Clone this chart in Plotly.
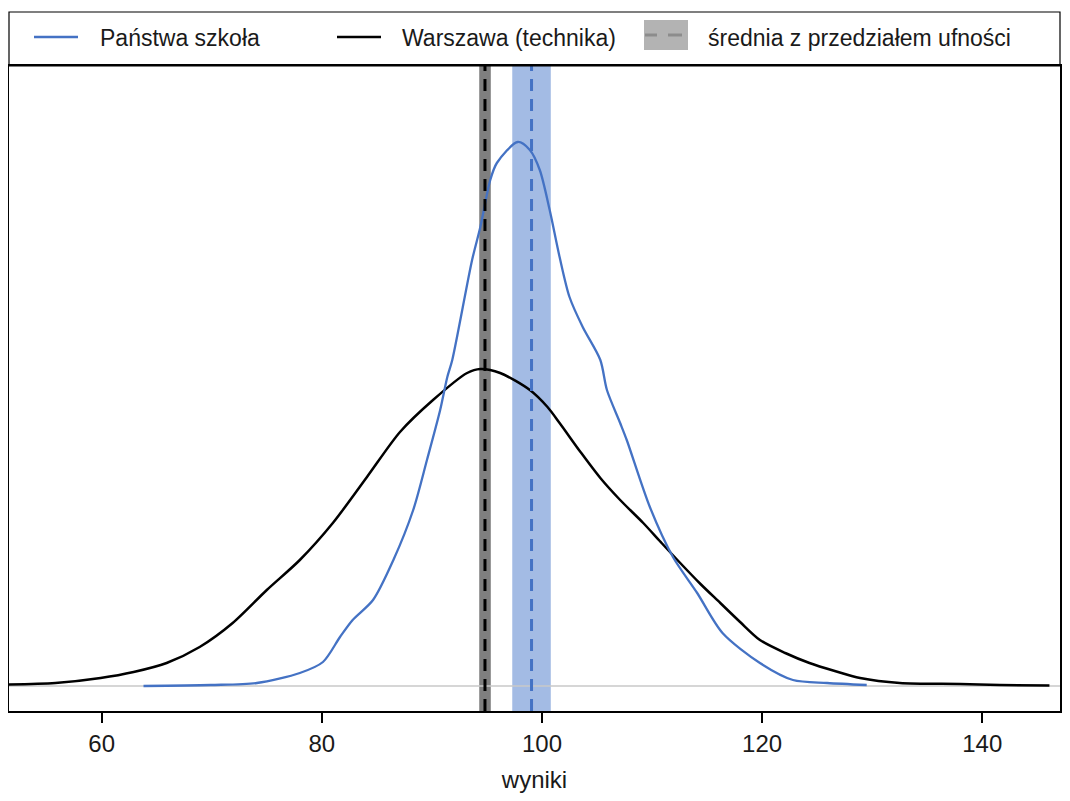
import plotly.graph_objects as go

# density curves (wyniki -> density)
black_x = [51.5, 55.8, 59.9, 62.9, 65.9, 68.9, 71.9, 75.0, 78.0, 81.0, 84.1, 87.1, 90.1,
           93.2, 94.4, 96.2, 98.9, 100.5, 101.6, 103.5, 105.3, 107.1, 109.2, 110.7, 112.3,
           114.4, 116.2, 118.0, 119.8, 122.1, 124.3, 126.6, 128.9, 132.5, 138.0, 141.6, 146.1]
black_d = [0.00015, 0.0003, 0.0008, 0.0014, 0.0023, 0.0039, 0.0063, 0.0096, 0.0126, 0.0163,
           0.0209, 0.0254, 0.0286, 0.0313, 0.0317, 0.0313, 0.0296, 0.0279, 0.0263, 0.0234,
           0.0208, 0.0186, 0.0163, 0.0145, 0.0126, 0.0102, 0.0083, 0.0064, 0.0046, 0.0033,
           0.0023, 0.0015, 0.0008, 0.0003, 0.0002, 0.0001, 0.00005]

blue_x = [63.8, 69.9, 74.1, 78.0, 80.1, 81.65, 82.8, 84.65, 86.5, 88.3, 89.55, 90.75, 91.4,
          91.85, 93.65, 94.4, 95.3, 95.9, 97.8, 98.9, 99.8, 100.7, 101.6, 102.5, 103.7, 105.3,
          105.9, 107.1, 107.7, 109.8, 111.9, 114.1, 116.4, 119.8, 122.8, 125.9, 129.5]
blue_d = [0.0, 0.0001, 0.0003, 0.0013, 0.0024, 0.0049, 0.0066, 0.0086, 0.0126, 0.0176, 0.0226,
          0.0276, 0.0309, 0.0326, 0.0426, 0.0459, 0.0506, 0.0523, 0.0544, 0.0536, 0.0516,
          0.0476, 0.0429, 0.0389, 0.0359, 0.0326, 0.0296, 0.0263, 0.0246, 0.0179, 0.0129,
          0.0093, 0.0053, 0.0023, 0.0006, 0.0003, 0.0001]

# means with confidence intervals
black_mean, black_lo, black_hi = 94.82, 94.3, 95.35
blue_mean, blue_lo, blue_hi = 99.05, 97.3, 100.8

tick_vals = [60, 80, 100, 120, 140]

BLUE = "#4472C4"
FONT = "Arial, Liberation Sans, sans-serif"

fig = go.Figure()

fig.add_trace(go.Scatter(x=black_x, y=black_d, mode="lines", line_shape="spline",
                         line=dict(color="black", width=2.5, smoothing=0.8), showlegend=False))
fig.add_trace(go.Scatter(x=blue_x, y=blue_d, mode="lines", line_shape="spline",
                         line=dict(color=BLUE, width=2.3, smoothing=0.8), showlegend=False))

# confidence bands
fig.add_vrect(x0=black_lo, x1=black_hi, fillcolor="#7f7f7f", line_width=0, layer="below")
fig.add_vrect(x0=blue_lo, x1=blue_hi, fillcolor="#a3bbe4", line_width=0, layer="below")
# zero line
fig.add_hline(y=0, line=dict(color="#c8c8c8", width=1.5), layer="below")
# means
fig.add_vline(x=black_mean, line=dict(color="black", width=3, dash="12px,8px"))
fig.add_vline(x=blue_mean, line=dict(color=BLUE, width=3, dash="12px,8px"))

# figure sits at page (8, 8) because of the body margin; plot area in page pixels
W, H = 1054, 785
X0, X1, Y0, Y1 = 9, 1060, 66, 711


def px(x):
    return (x - X0) / (X1 - X0)


def py(y):
    return (Y1 - y) / (Y1 - Y0)


shapes = [
    dict(type="rect", xref="paper", yref="paper", x0=0, x1=1, y0=1, y1=py(12),
         line=dict(color="black", width=1.2)),
    dict(type="line", xref="paper", yref="paper", x0=px(34), x1=px(78), y0=py(37), y1=py(37),
         line=dict(color=BLUE, width=2.5)),
    dict(type="line", xref="paper", yref="paper", x0=px(337), x1=px(381), y0=py(37), y1=py(37),
         line=dict(color="black", width=2.5)),
    dict(type="rect", xref="paper", yref="paper", x0=px(644), x1=px(688), y0=py(50), y1=py(20),
         fillcolor="#b3b3b3", line_width=0),
    dict(type="line", xref="paper", yref="paper", x0=px(645), x1=px(657), y0=py(35), y1=py(35),
         line=dict(color="#8c8c8c", width=3)),
    dict(type="line", xref="paper", yref="paper", x0=px(668), x1=px(682), y0=py(35), y1=py(35),
         line=dict(color="#8c8c8c", width=3)),
]
for s in shapes:
    fig.add_shape(**s)

legend_labels = [("Państwa szkoła", 98), ("Warszawa (technika)", 400),
                 ("średnia z przedziałem ufności", 706)]
for txt, x in legend_labels:
    fig.add_annotation(text=txt, xref="paper", yref="paper", x=px(x), y=py(38),
                       xanchor="left", yanchor="middle", showarrow=False,
                       font=dict(size=23, color="#1a1a1a", family=FONT))

fig.update_layout(
    width=W, height=H,
    margin=dict(l=X0 - 8, r=W + 8 - X1, t=Y0 - 8, b=H + 8 - Y1),
    plot_bgcolor="white", paper_bgcolor="white",
    font=dict(family=FONT, color="black"),
    xaxis=dict(range=[51.58, 147.06], tickvals=tick_vals, ticks="outside", ticklen=10,
               tickwidth=1.5, tickcolor="black", showgrid=False, zeroline=False,
               showline=True, linecolor="black", linewidth=1.5, mirror=True, automargin=False,
               tickfont=dict(size=24, color="#1a1a1a"),
               title=dict(text="wyniki", font=dict(size=24, color="#1a1a1a"), standoff=25)),
    yaxis=dict(range=[-0.0025, 0.062], showticklabels=False, ticks="", showgrid=False,
               zeroline=False, showline=True, linecolor="black", linewidth=1.5, mirror=True,
               automargin=False),
)

fig.write_html("out.html")
